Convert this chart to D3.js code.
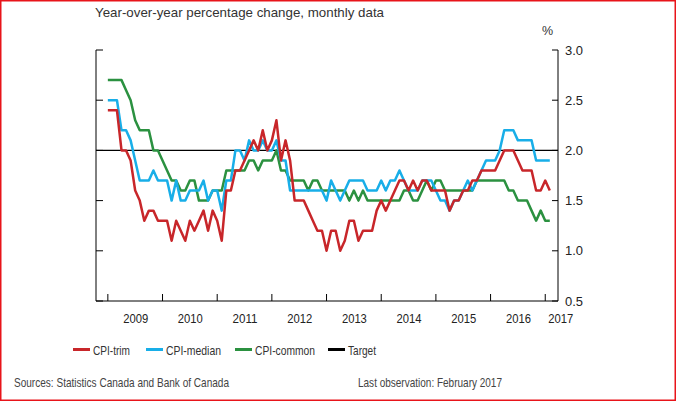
<!DOCTYPE html>
<html>
<head>
<meta charset="utf-8">
<script src="https://cdn.jsdelivr.net/npm/d3@7"></script>
<style>
  body { margin: 0; background: #fff; }
  svg { font-family: "Liberation Sans", Arial, sans-serif; }
</style>
</head>
<body>
<svg id="chart" width="677" height="402"></svg>
<script>
// monthly, Jan 2009 - Feb 2017
var cpiTrim = [2.4,2.4,2.4,2.0,2.0,1.9,1.6,1.5,1.3,1.4,1.4,1.3,1.3,1.3,1.1,1.3,1.2,1.1,1.3,1.2,
  1.3,1.4,1.2,1.4,1.3,1.1,1.6,1.6,1.8,1.8,1.9,2.0,2.1,2.0,2.2,2.0,2.1,2.3,1.9,2.1,
  1.9,1.5,1.5,1.5,1.4,1.3,1.2,1.2,1.0,1.2,1.2,1.0,1.1,1.3,1.3,1.1,1.2,1.2,1.2,1.4,
  1.5,1.4,1.5,1.6,1.7,1.7,1.6,1.7,1.6,1.7,1.7,1.6,1.6,1.6,1.6,1.4,1.5,1.5,1.6,1.6,
  1.7,1.7,1.8,1.8,1.8,1.8,1.9,2.0,2.0,2.0,1.9,1.8,1.8,1.8,1.6,1.6,1.7,1.6];
var cpiMedian = [2.5,2.5,2.5,2.2,2.2,2.1,1.9,1.7,1.7,1.7,1.8,1.7,1.7,1.7,1.5,1.7,1.5,1.5,1.6,1.6,
  1.6,1.7,1.5,1.6,1.6,1.4,1.7,1.7,2.0,2.0,1.9,2.1,2.0,2.0,2.1,2.0,2.0,2.1,1.9,1.9,
  1.6,1.6,1.6,1.6,1.6,1.6,1.6,1.6,1.5,1.7,1.6,1.5,1.6,1.7,1.7,1.7,1.7,1.6,1.6,1.6,
  1.7,1.6,1.7,1.7,1.8,1.7,1.6,1.6,1.6,1.7,1.7,1.7,1.6,1.5,1.5,1.4,1.5,1.5,1.6,1.7,
  1.6,1.7,1.8,1.9,1.9,1.9,2.0,2.2,2.2,2.2,2.1,2.1,2.1,2.1,1.9,1.9,1.9,1.9];
var cpiCommon = [2.7,2.7,2.7,2.7,2.6,2.5,2.3,2.2,2.2,2.2,2.0,2.0,1.9,1.8,1.7,1.7,1.6,1.6,1.7,1.7,
  1.5,1.5,1.5,1.6,1.6,1.6,1.8,1.8,1.8,1.8,1.8,1.9,1.9,1.8,1.9,1.9,1.9,2.0,1.8,1.8,
  1.7,1.7,1.7,1.7,1.6,1.7,1.7,1.6,1.6,1.6,1.6,1.6,1.6,1.5,1.6,1.5,1.6,1.5,1.5,1.5,
  1.5,1.5,1.5,1.5,1.5,1.6,1.6,1.5,1.5,1.6,1.7,1.6,1.7,1.7,1.6,1.6,1.6,1.6,1.6,1.6,
  1.6,1.7,1.7,1.7,1.7,1.7,1.7,1.7,1.6,1.6,1.5,1.5,1.5,1.4,1.3,1.4,1.3,1.3];
var target = 2.0;
var yearLabels = ["2009","2010","2011","2012","2013","2014","2015","2016","2017"];
var yTicks = [0.5,1.0,1.5,2.0,2.5,3.0];

var svg = d3.select("#chart");
var pLeft = 96, pRight = 558, pTop = 50, pBottom = 301;

// narrow text helper: squeeze text to the width seen in the picture
function narrowText(sel, w) {
  sel.attr("textLength", w).attr("lengthAdjust", "spacingAndGlyphs");
  return sel;
}

// red frame
svg.append("rect").attr("x", 0.75).attr("y", 0.75).attr("width", 674.5).attr("height", 399.5)
  .attr("fill", "none").attr("stroke", "#e8141a").attr("stroke-width", 1.5);

var x = d3.scaleLinear().domain([-2.6, 98.8]).range([pLeft, pRight]);
var y = d3.scaleLinear().domain([0.5, 3.0]).range([pBottom, pTop]);

narrowText(svg.append("text").attr("x", 95).attr("y", 17).attr("font-size", 13).attr("fill", "#333")
  .text("Year-over-year percentage change, monthly data"), 289);
svg.append("text").attr("x", 542).attr("y", 35).attr("font-size", 12.5).attr("fill", "#333").text("%");

// frame lines
svg.append("line").attr("x1", pLeft).attr("x2", pLeft).attr("y1", pTop).attr("y2", pBottom).attr("stroke", "#000");
svg.append("line").attr("x1", pRight).attr("x2", pRight).attr("y1", pTop).attr("y2", pBottom).attr("stroke", "#000");
svg.append("line").attr("x1", pLeft).attr("x2", pRight).attr("y1", pBottom).attr("y2", pBottom).attr("stroke", "#000");

// right axis
var yAxis = d3.axisRight(y).tickValues(yTicks).tickFormat(d3.format(".1f")).tickSize(0).tickPadding(7);
var ga = svg.append("g").attr("transform", "translate(" + pRight + ",0)").call(yAxis);
ga.select(".domain").remove();
ga.selectAll("text").attr("font-size", 13).attr("fill", "#222").attr("font-family", null)
  .attr("textLength", 18).attr("lengthAdjust", "spacingAndGlyphs");
yTicks.forEach(function (v) {
  svg.append("line").attr("x1", pRight - 6).attr("x2", pRight).attr("y1", y(v)).attr("y2", y(v)).attr("stroke", "#000");
  svg.append("line").attr("x1", pLeft).attr("x2", pLeft + 7).attr("y1", y(v)).attr("y2", y(v)).attr("stroke", "#000");
});

// year ticks and labels
yearLabels.forEach(function (lab, i) {
  var xt = x(i * 12);
  svg.append("line").attr("x1", xt).attr("x2", xt).attr("y1", pBottom - 7).attr("y2", pBottom).attr("stroke", "#000");
  var xl = i < 8 ? x(i * 12 + 6) : x(i * 12) + 15;
  narrowText(svg.append("text").attr("x", xl - 12).attr("y", 323)
    .attr("font-size", 13).attr("fill", "#222").text(lab), 25);
});

// target
svg.append("line").attr("x1", pLeft).attr("x2", pRight).attr("y1", y(target)).attr("y2", y(target))
  .attr("stroke", "#000").attr("stroke-width", 1.2);

var line = d3.line().x(function (d, i) { return x(i); }).y(function (d) { return y(d); });
var series = [
  { name: "CPI-trim", data: cpiTrim, color: "#c8262a" },
  { name: "CPI-median", data: cpiMedian, color: "#18aee8" },
  { name: "CPI-common", data: cpiCommon, color: "#2b9140" }
];
// draw order: common, median, trim on top
[series[2], series[1], series[0]].forEach(function (s) {
  svg.append("path").datum(s.data).attr("d", line).attr("fill", "none")
    .attr("stroke", s.color).attr("stroke-width", 2.5).attr("stroke-linejoin", "round");
});

// legend
var legend = [
  { name: "CPI-trim", color: "#c8262a", x: 73, w: 37 },
  { name: "CPI-median", color: "#18aee8", x: 146, w: 55 },
  { name: "CPI-common", color: "#2b9140", x: 235, w: 60 },
  { name: "Target", color: "#000", x: 328, w: 28 }
];
legend.forEach(function (l) {
  svg.append("line").attr("x1", l.x).attr("x2", l.x + 17).attr("y1", 349.5).attr("y2", 349.5)
    .attr("stroke", l.color).attr("stroke-width", 3);
  narrowText(svg.append("text").attr("x", l.x + 20).attr("y", 354.5).attr("font-size", 13)
    .attr("fill", "#333").text(l.name), l.w);
});

narrowText(svg.append("text").attr("x", 14).attr("y", 387).attr("font-size", 13).attr("fill", "#444")
  .text("Sources: Statistics Canada and Bank of Canada"), 215);
narrowText(svg.append("text").attr("x", 358).attr("y", 387).attr("font-size", 13).attr("fill", "#444")
  .text("Last observation: February 2017"), 144);
</script>
</body>
</html>
